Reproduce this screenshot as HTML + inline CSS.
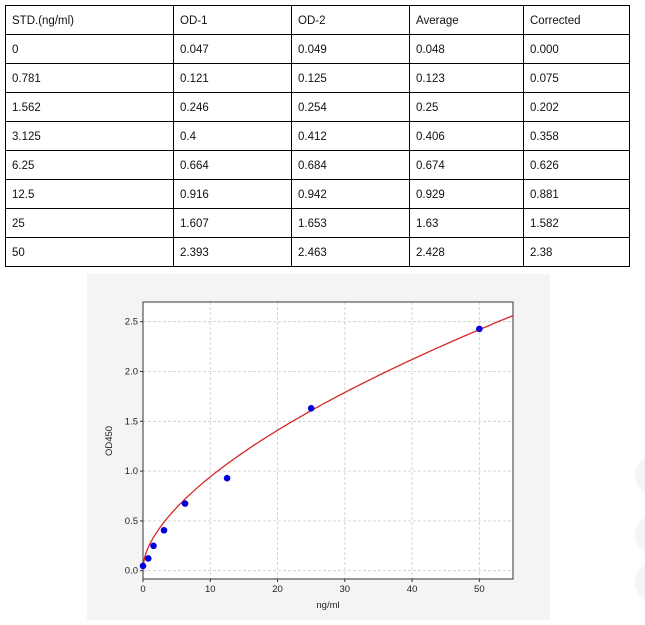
<!DOCTYPE html>
<html><head><style>
body{margin:0;width:645px;height:625px;background:#fff;position:relative;overflow:hidden;font-family:"Liberation Sans",sans-serif}
table{position:absolute;left:5px;top:5px;border-collapse:collapse;font-size:11.5px;color:#111}
td{border:1px solid #000;height:26px;padding:2px 0 0 6px;vertical-align:middle}
.c{position:absolute;width:40px;height:40px;border-radius:50%;background:#f5f5f5;box-shadow:0 0 2px #e4e4e4}
</style></head><body>
<table>
<colgroup><col style="width:168px"><col style="width:118px"><col style="width:118px"><col style="width:114px"><col style="width:106px"></colgroup>
<tr><td>STD.(ng/ml)</td><td>OD-1</td><td>OD-2</td><td>Average</td><td>Corrected</td></tr>
<tr><td>0</td><td>0.047</td><td>0.049</td><td>0.048</td><td>0.000</td></tr>
<tr><td>0.781</td><td>0.121</td><td>0.125</td><td>0.123</td><td>0.075</td></tr>
<tr><td>1.562</td><td>0.246</td><td>0.254</td><td>0.25</td><td>0.202</td></tr>
<tr><td>3.125</td><td>0.4</td><td>0.412</td><td>0.406</td><td>0.358</td></tr>
<tr><td>6.25</td><td>0.664</td><td>0.684</td><td>0.674</td><td>0.626</td></tr>
<tr><td>12.5</td><td>0.916</td><td>0.942</td><td>0.929</td><td>0.881</td></tr>
<tr><td>25</td><td>1.607</td><td>1.653</td><td>1.63</td><td>1.582</td></tr>
<tr><td>50</td><td>2.393</td><td>2.463</td><td>2.428</td><td>2.38</td></tr>
</table>
<div class="c" style="left:636px;top:455px"></div>
<div class="c" style="left:636px;top:515px"></div>
<div class="c" style="left:636px;top:562px"></div>
<svg id="s" style="position:absolute;left:0;top:0" width="645" height="625" font-family="Liberation Sans, sans-serif" font-size="9.5" fill="#222"></svg>
<script>
var s=document.getElementById('s'),h='';
h+='<rect x="87" y="274" width="463" height="346" fill="#f4f4f4"/>';
var L=143,R=513,T=302,B=579;
h+='<rect x="'+L+'" y="'+T+'" width="'+(R-L)+'" height="'+(B-T)+'" fill="#fff"/>';
function X(v){return L+v*6.727}function Y(v){return 570.7-v*99.6}
for(var i=0;i<=50;i+=10){var x=X(i);h+='<line x1="'+x+'" y1="'+T+'" x2="'+x+'" y2="'+B+'" stroke="#ccc" stroke-width="0.8" stroke-dasharray="3,2"/><line x1="'+x+'" y1="'+B+'" x2="'+x+'" y2="'+(B+3)+'" stroke="#333"/><text x="'+x+'" y="'+(B+13)+'" text-anchor="middle">'+i+'</text>';}
for(var j=0;j<=5;j++){var v=j*0.5,y=Y(v);h+='<line x1="'+L+'" y1="'+y+'" x2="'+R+'" y2="'+y+'" stroke="#ccc" stroke-width="0.8" stroke-dasharray="3,2"/><line x1="'+(L-3)+'" y1="'+y+'" x2="'+L+'" y2="'+y+'" stroke="#333"/><text x="'+(L-5)+'" y="'+(y+3)+'" text-anchor="end">'+v.toFixed(1)+'</text>';}
h+='<rect x="'+L+'" y="'+T+'" width="'+(R-L)+'" height="'+(B-T)+'" fill="none" stroke="#333" stroke-width="1"/>';
var p='';for(var k=0;k<=220;k++){var xv=k*55/220,yv=0.04+0.225*Math.pow(xv,0.603);p+=(k?'L':'M')+X(xv).toFixed(1)+','+Y(yv).toFixed(1);}
h+='<path d="'+p+'" fill="none" stroke="#d62728" stroke-width="1.3"/>';
[[0,0.048],[0.781,0.123],[1.562,0.25],[3.125,0.406],[6.25,0.674],[12.5,0.929],[25,1.63],[50,2.428]].forEach(function(d){h+='<circle cx="'+X(d[0])+'" cy="'+Y(d[1])+'" r="3.3" fill="#0000dd"/>';});
h+='<text x="328" y="608" text-anchor="middle">ng/ml</text>';
h+='<text transform="translate(112,441) rotate(-90)" text-anchor="middle">OD450</text>';
s.innerHTML=h;
</script>
</body></html>
